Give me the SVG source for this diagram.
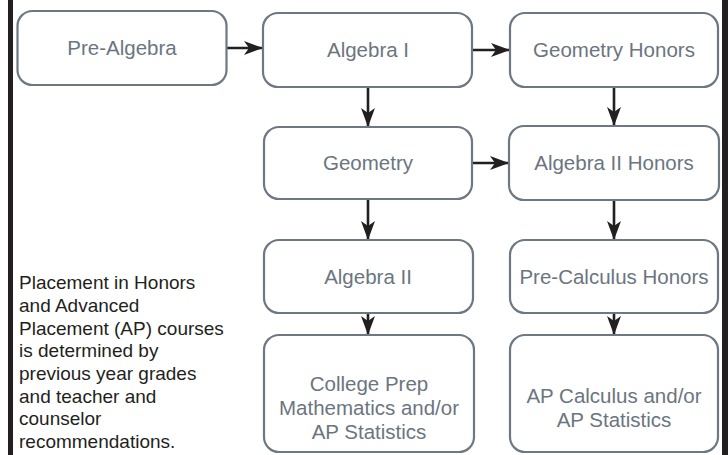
<svg xmlns="http://www.w3.org/2000/svg" width="728" height="455" viewBox="0 0 728 455">
<style>
.box{fill:#ffffff;stroke:#6d7882;stroke-width:2.2}
.t{font-family:"Liberation Sans",Arial,sans-serif;font-size:20.5px;fill:#6b7580;text-anchor:middle}
.note{font-family:"Liberation Sans",Arial,sans-serif;font-size:19px;fill:#231f20}
.c{stroke:#231f20;stroke-width:2.6;fill:none;marker-end:url(#ah)}
.bar{fill:#231f20}
</style>
<defs>
<marker id="ah" markerUnits="userSpaceOnUse" markerWidth="22" markerHeight="16" refX="19" refY="8" orient="auto">
<path d="M0,1 L19,8 L0,15 L5,8 Z" fill="#231f20"/>
</marker>
</defs>
<rect width="728" height="455" fill="#ffffff"/>
<rect class="bar" x="8" y="0" width="5" height="455"/>
<rect class="bar" x="722" y="0" width="6" height="455"/>
<g id="connectors">
<line class="c" x1="227" y1="48" x2="263" y2="48"/>
<line class="c" x1="473" y1="50" x2="510" y2="50"/>
<line class="c" x1="368" y1="88" x2="368" y2="127"/>
<line class="c" x1="614" y1="88" x2="614" y2="126"/>
<line class="c" x1="473" y1="163" x2="509" y2="163"/>
<line class="c" x1="368" y1="199" x2="368" y2="240"/>
<line class="c" x1="614" y1="200" x2="614" y2="240"/>
<line class="c" x1="368" y1="314" x2="368" y2="335"/>
<line class="c" x1="614" y1="314" x2="614" y2="335"/>
</g>
<g id="pre-algebra"><rect class="box" x="17.5" y="11" width="209" height="74" rx="15"/><text class="t" x="122" y="55">Pre-Algebra</text></g>
<g id="algebra-1"><rect class="box" x="263" y="13" width="209" height="74" rx="15"/><text class="t" x="368" y="57">Algebra I</text></g>
<g id="geometry-honors"><rect class="box" x="510" y="13" width="208" height="74" rx="15"/><text class="t" x="614" y="57">Geometry Honors</text></g>
<g id="geometry"><rect class="box" x="264" y="127" width="208" height="72" rx="15"/><text class="t" x="368" y="170">Geometry</text></g>
<g id="algebra-2-honors"><rect class="box" x="509" y="126" width="210" height="74" rx="15"/><text class="t" x="614" y="170">Algebra II Honors</text></g>
<g id="algebra-2"><rect class="box" x="264" y="240" width="209" height="73" rx="15"/><text class="t" x="368" y="284">Algebra II</text></g>
<g id="pre-calculus-honors"><rect class="box" x="510" y="240" width="208" height="73" rx="15"/><text class="t" x="614" y="284">Pre-Calculus Honors</text></g>
<g id="college-prep"><rect class="box" x="264" y="335" width="210" height="117" rx="15"/><text class="t" x="369" y="391">College Prep</text><text class="t" x="369" y="415">Mathematics and/or</text><text class="t" x="369" y="439">AP Statistics</text></g>
<g id="ap-calculus"><rect class="box" x="510" y="335" width="208" height="117" rx="15"/><text class="t" x="614" y="403">AP Calculus and/or</text><text class="t" x="614" y="427">AP Statistics</text></g>
<g id="note" class="note">
<text x="19" y="289">Placement in Honors</text>
<text x="19" y="312">and Advanced</text>
<text x="19" y="335">Placement (AP) courses</text>
<text x="19" y="357">is determined by</text>
<text x="19" y="380">previous year grades</text>
<text x="19" y="403">and teacher and</text>
<text x="19" y="425">counselor</text>
<text x="19" y="448">recommendations.</text>
</g>
</svg>
